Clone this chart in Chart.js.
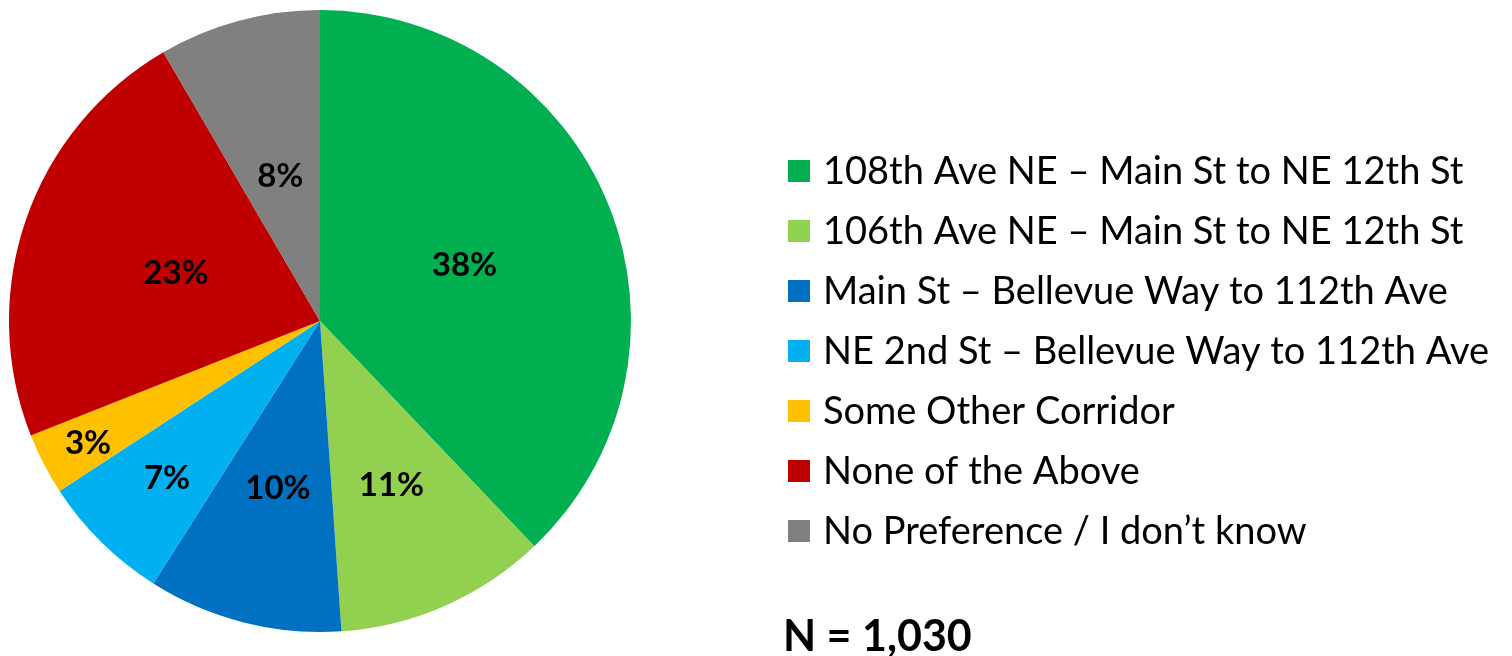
<!DOCTYPE html>
<html>
<head>
<meta charset="utf-8">
<title>Corridor preference</title>
<script src="https://cdn.jsdelivr.net/npm/chart.js@4.4.0/dist/chart.umd.min.js"></script>
<style>
  html, body { margin: 0; padding: 0; background: #fff; }
  #wrap { position: relative; width: 1512px; height: 656px; }
</style>
</head>
<body>
<div id="wrap"><canvas id="pie-chart"></canvas></div>
<script>
    "use strict";

    // Data (slice sizes, labels show them rounded)
    var categories = [
        "108th Ave NE \u2013 Main St to NE 12th St",
        "106th Ave NE \u2013 Main St to NE 12th St",
        "Main St \u2013 Bellevue Way to 112th Ave",
        "NE 2nd St \u2013 Bellevue Way to 112th Ave",
        "Some Other Corridor",
        "None of the Above",
        "No Preference / I don\u2019t know"
    ];
    var shares = [37.9, 11.0, 10.1, 6.8, 3.2, 22.6, 8.4];
    var sampleNote = "N = 1,030";

    var colors = ["#00B050", "#92D050", "#0070C0", "#00B0F0", "#FFC000", "#C00000", "#808080"];
    // how far out (fraction of radius) each percent label sits
    var labelDepth = [0.5, 0.57, 0.55, 0.7, 0.84, 0.49, 0.49];

    // Percent labels inside the slices
    var sliceLabels = {
        id: "sliceLabels",
        afterDatasetsDraw: function (chart) {
            var ctx = chart.ctx;
            var meta = chart.getDatasetMeta(0);
            ctx.save();
            ctx.font = "bold 33px Lato";
            ctx.fillStyle = "#000";
            ctx.textAlign = "center";
            ctx.textBaseline = "middle";
            meta.data.forEach(function (arc, i) {
                var mid = (arc.startAngle + arc.endAngle) / 2;
                var r = arc.outerRadius * labelDepth[i];
                ctx.fillText(Math.round(shares[i]) + "%", arc.x + Math.cos(mid) * r, arc.y + Math.sin(mid) * r + 2);
            });
            ctx.restore();
        }
    };

    // Legend on the right plus the sample size
    var sideLegend = {
        id: "sideLegend",
        afterDraw: function (chart) {
            var ctx = chart.ctx;
            var ds = chart.data.datasets[0];
            ctx.save();
            ctx.font = "38px Lato";
            ctx.textBaseline = "middle";
            ctx.textAlign = "left";
            chart.data.labels.forEach(function (label, i) {
                var y = 171 + i * 60;
                ctx.fillStyle = ds.backgroundColor[i];
                ctx.fillRect(788, y - 11, 22, 22);
                ctx.fillStyle = "#000";
                ctx.fillText(label, 823, y + 1);
            });
            ctx.font = "bold 43px Lato";
            ctx.fillText(sampleNote, 783, 637);
            ctx.restore();
        }
    };

    var ctx5 = document.getElementById("pie-chart").getContext("2d");
    var myChart5 = new Chart(ctx5, {
        type: "pie",
        data: {
            labels: categories,
            datasets: [{
                data: shares,
                backgroundColor: colors,
                borderWidth: 0
            }]
        },
        options: {
            responsive: true,
            maintainAspectRatio: false,
            animation: false,
            layout: { padding: { left: 8, top: 10, bottom: 24, right: 880 } },
            plugins: {
                legend: { display: false },
                tooltip: { enabled: false }
            }
        },
        plugins: [sliceLabels, sideLegend]
    });
</script>
</body>
</html>
